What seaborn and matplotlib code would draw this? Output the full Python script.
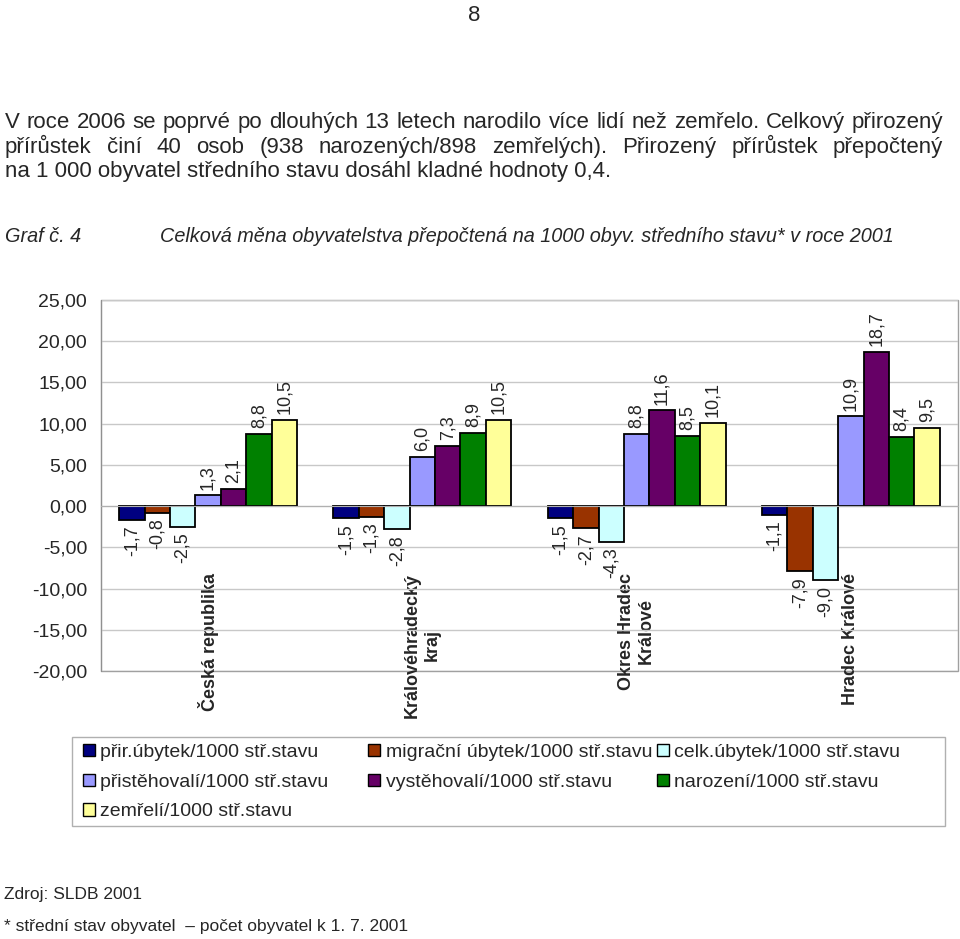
import numpy as np
import pandas as pd
import matplotlib
matplotlib.use("Agg")
import matplotlib.pyplot as plt
import seaborn as sns
from matplotlib.patches import Patch, Rectangle
from matplotlib.ticker import FixedLocator, FuncFormatter

# ---------------- data ----------------
regions = ["Česká republika", "Královéhradecký\nkraj", "Okres Hradec\nKrálové", "Hradec Králové"]
series = [
    "přir.úbytek/1000 stř.stavu",
    "migrační úbytek/1000 stř.stavu",
    "celk.úbytek/1000 stř.stavu",
    "přistěhovalí/1000 stř.stavu",
    "vystěhovalí/1000 stř.stavu",
    "narození/1000 stř.stavu",
    "zemřelí/1000 stř.stavu",
]
colors = ["#000080", "#993300", "#CCFFFF", "#9999FF", "#660066", "#008000", "#FFFF99"]
values_cr = [-1.7, -0.8, -2.5, 1.3, 2.1, 8.8, 10.5]
values_khk = [-1.5, -1.3, -2.8, 6.0, 7.3, 8.9, 10.5]
values_okres = [-1.5, -2.7, -4.3, 8.8, 11.6, 8.5, 10.1]
values_hk = [-1.1, -7.9, -9.0, 10.9, 18.7, 8.4, 9.5]
yticks = [-20, -15, -10, -5, 0, 5, 10, 15, 20, 25]

page_number = "8"
para_lines = [
    "V roce 2006 se poprvé po dlouhých 13 letech narodilo více lidí než zemřelo. Celkový přirozený",
    "přírůstek činí 40 osob (938 narozených/898 zemřelých). Přirozený přírůstek přepočtený",
    "na 1 000 obyvatel středního stavu dosáhl kladné hodnoty 0,4.",
]
graf_label = "Graf č. 4"
graf_title = "Celková měna obyvatelstva přepočtená na 1000 obyv. středního stavu* v roce 2001"
source = "Zdroj: SLDB 2001"
footnote = "* střední stav obyvatel  – počet obyvatel k 1. 7. 2001"

all_values = [values_cr, values_khk, values_okres, values_hk]
df = pd.DataFrame(
    [(r, s, v) for r, vals in zip(regions, all_values) for s, v in zip(series, vals)],
    columns=["region", "series", "value"],
)

# ---------------- style ----------------
sns.set_style("white")
plt.rcParams["font.family"] = ["Liberation Sans", "DejaVu Sans"]

W, H = 960, 939
fig = plt.figure(figsize=(W / 100, H / 100), dpi=100)
fig.patch.set_facecolor("white")


def fx(px):
    return px / W


def fy(py):
    return 1 - py / H


ax = fig.add_axes([fx(101), fy(671), fx(958) - fx(101), fy(300) - fy(671)])

sns.barplot(
    data=df, x="region", y="value", hue="series",
    order=regions, hue_order=series, palette=colors,
    width=0.83, saturation=1, edgecolor="black", linewidth=1.3,
    errorbar=None, legend=False, ax=ax,
)

ax.set_xlim(-0.5, len(regions) - 0.5)
ax.set_ylim(yticks[0], yticks[-1])
ax.set_xlabel("")
ax.set_ylabel("")
ax.set_axisbelow(True)

# y axis
ax.yaxis.set_major_locator(FixedLocator(yticks))
ax.yaxis.set_major_formatter(FuncFormatter(lambda v, p: f"{v:.2f}".replace(".", ",")))
ax.tick_params(axis="y", labelsize=14, length=3, color="#909090", direction="out", pad=7)
ax.yaxis.grid(True, color="#c8c8c8", linewidth=1)

# x axis at zero
ax.spines["bottom"].set_position(("data", 0))
ax.spines["bottom"].set_color("#b0b0b0")
ax.set_xticks(range(len(regions)))
ax.set_xticklabels(regions, rotation=90, fontweight="bold", fontsize=13)
for t in ax.get_xticklabels():
    t.set_multialignment("center")
ax.tick_params(axis="x", which="major", length=0, pad=48)
ax.set_xticks([i + 0.5 for i in range(len(regions) - 1)], minor=True)
ax.tick_params(axis="x", which="minor", length=4, color="#a0a0a0", direction="out")

for side in ["top", "right"]:
    ax.spines[side].set_visible(False)
ax.spines["left"].set_color("#909090")
ax.add_patch(Rectangle((0, 0), 1, 1, transform=ax.transAxes, fill=False,
                       edgecolor="#a0a0a0", linewidth=1, clip_on=False, zorder=0.5))

# data labels
for cont, s in zip(ax.containers, series):
    vals = [v for v in df[df.series == s].value]
    ax.bar_label(cont, labels=[f"{v:.1f}".replace(".", ",") for v in vals],
                 rotation=90, padding=4, fontsize=13)

# ---------------- legend ----------------
fig.add_artist(Rectangle((fx(72), fy(826)), fx(945) - fx(72), fy(737) - fy(826),
                         transform=fig.transFigure, fill=False, edgecolor="#b0b0b0", linewidth=1))
col_layout = [(83, [0, 3, 6]), (368, [1, 4]), (657, [2, 5])]
for x_px, idxs in col_layout:
    handles = [Patch(facecolor=colors[i], edgecolor="black", linewidth=1) for i in idxs]
    fig.legend(handles=handles, labels=[series[i] for i in idxs], loc="upper left",
               bbox_to_anchor=(fx(x_px), fy(744)), frameon=False, borderpad=0,
               borderaxespad=0, handlelength=0.6, handleheight=0.6, handletextpad=0.3,
               labelspacing=0.65, fontsize=14)

# ---------------- page text ----------------
fig.text(fx(474), fy(21), page_number, fontsize=16, ha="center", va="baseline")

renderer = fig.canvas.get_renderer()


def justified(line, x0, x1, y, **kw):
    words = line.split(" ")
    texts = [fig.text(0, fy(y), w, va="baseline", ha="left", **kw) for w in words]
    widths = [t.get_window_extent(renderer).width for t in texts]
    gap = (x1 - x0 - sum(widths)) / (len(words) - 1)
    x = x0
    for t, w in zip(texts, widths):
        t.set_x(fx(x))
        x += w + gap


justified(para_lines[0], 5, 943, 128, fontsize=16)
justified(para_lines[1], 5, 943, 153, fontsize=16)
fig.text(fx(5), fy(177), para_lines[2], fontsize=16, va="baseline")

fig.text(fx(5), fy(242), graf_label, fontsize=14.3, style="italic", va="baseline")
fig.text(fx(160), fy(242), graf_title, fontsize=14.3, style="italic", va="baseline")

fig.text(fx(4), fy(899), source, fontsize=12.5, va="baseline")
fig.text(fx(4), fy(931), footnote, fontsize=12.5, va="baseline")

fig.savefig("out.png", dpi=100, facecolor="white")
